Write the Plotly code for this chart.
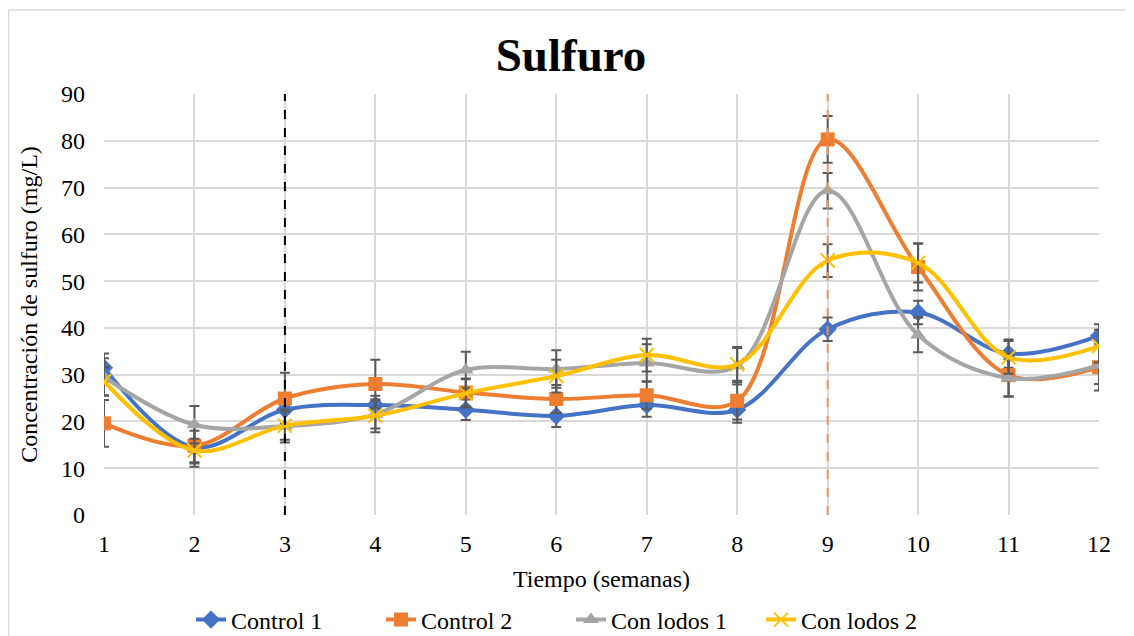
import plotly.graph_objects as go

weeks = [1, 2, 3, 4, 5, 6, 7, 8, 9, 10, 11, 12]

control1 = [31.5, 14.5, 22.5, 23.5, 22.5, 21.2, 23.5, 22.5, 39.7, 43.3, 34.5, 38.3]
control1_err = [3.0, 3.5, 3.0, 2.0, 2.2, 2.4, 2.5, 2.8, 2.5, 2.5, 3.0, 2.5]

control2 = [19.6, 14.8, 24.9, 28.0, 26.2, 24.8, 25.6, 24.4, 80.3, 53.0, 29.9, 31.6]
control2_err = [5.0, 4.5, 5.5, 5.2, 3.0, 3.0, 3.0, 4.0, 5.0, 5.0, 4.5, 5.0]

lodos1 = [29.5, 19.3, 19.0, 21.5, 31.0, 31.2, 32.5, 31.9, 69.3, 38.5, 29.3, 32.0]
lodos1_err = [4.0, 4.0, 3.5, 3.0, 3.9, 4.0, 4.0, 4.0, 3.8, 3.7, 4.0, 4.0]

lodos2 = [28.6, 13.8, 19.1, 21.2, 26.0, 29.7, 34.2, 32.2, 54.4, 53.9, 33.7, 36.1]
lodos2_err = [3.0, 2.5, 3.0, 3.5, 3.0, 3.5, 3.5, 3.5, 3.5, 4.2, 3.5, 3.5]

series = [
    ("Control 1", control1, control1_err, "#4472C4", "diamond", 14),
    ("Control 2", control2, control2_err, "#ED7D31", "square", 14),
    ("Con lodos 1", lodos1, lodos1_err, "#A5A5A5", "triangle-up", 14),
    ("Con lodos 2", lodos2, lodos2_err, "#FFC000", "x-thin-open", 14),
]

FONT = "'Liberation Serif', 'Times New Roman', serif"

fig = go.Figure()
for name, vals, err, color, sym, size in series:
    marker = dict(color=color, symbol=sym, size=size)
    if sym == "x-thin-open":
        marker["line"] = dict(color=color, width=2)
    fig.add_trace(go.Scatter(
        x=weeks, y=vals, name=name, mode="lines+markers",
        line=dict(color=color, width=4, shape="spline", smoothing=1.0),
        marker=marker,
        error_y=dict(type="data", array=err, visible=True,
                     color="#595959", thickness=2, width=5),
    ))

# vertical dashed reference lines
fig.add_shape(type="line", xref="x", yref="y", x0=3, x1=3, y0=0, y1=90,
              line=dict(color="black", width=2, dash="dash"))
fig.add_shape(type="line", xref="x", yref="y", x0=9, x1=9, y0=0, y1=90,
              line=dict(color="#F0955A", width=2, dash="dash"))

# outer chart border
fig.add_shape(type="line", xref="paper", yref="paper",
              x0=-0.0960, x1=-0.0960, y0=-0.35, y1=1.1995,
              line=dict(color="#D9D9D9", width=1.5))
fig.add_shape(type="line", xref="paper", yref="paper",
              x0=-0.0960, x1=1.05, y0=1.1995, y1=1.1995,
              line=dict(color="#D9D9D9", width=1.5))

fig.update_layout(
    width=1126, height=628,
    margin=dict(l=96, r=35, t=86, b=121),
    paper_bgcolor="white", plot_bgcolor="white",
    font=dict(family=FONT, size=24, color="black"),
    title=dict(text="<b>Sulfuro</b>", x=0.5, xanchor="center",
               y=1 - 47 / 628, yanchor="middle",
               font=dict(family=FONT, size=47, color="black")),
    showlegend=True,
    legend=dict(orientation="h", x=0.5, xanchor="center",
                xref="container", yref="container",
                y=(628 - 612) / 628, yanchor="middle",
                font=dict(family=FONT, size=24),
                entrywidth=145, entrywidthmode="pixels",
                tracegroupgap=0),
    xaxis=dict(range=[1, 12], tickmode="linear", dtick=1, showgrid=True,
               gridcolor="#D9D9D9", gridwidth=1.5, zeroline=False,
               showline=False, ticks="", ticklabelstandoff=12,
               automargin=False,
               title=dict(text="Tiempo (semanas)", standoff=14,
                          font=dict(family=FONT, size=24)),
               tickfont=dict(family=FONT, size=24)),
    yaxis=dict(range=[0, 90], tickmode="linear", dtick=10, showgrid=True,
               gridcolor="#D9D9D9", gridwidth=1.5, zeroline=False,
               showline=False, ticks="", ticklabelstandoff=18,
               automargin=False,
               title=dict(text="Concentración de sulfuro (mg/L)", standoff=16,
                          font=dict(family=FONT, size=24)),
               tickfont=dict(family=FONT, size=24)),
)

fig.write_html("out.html")
